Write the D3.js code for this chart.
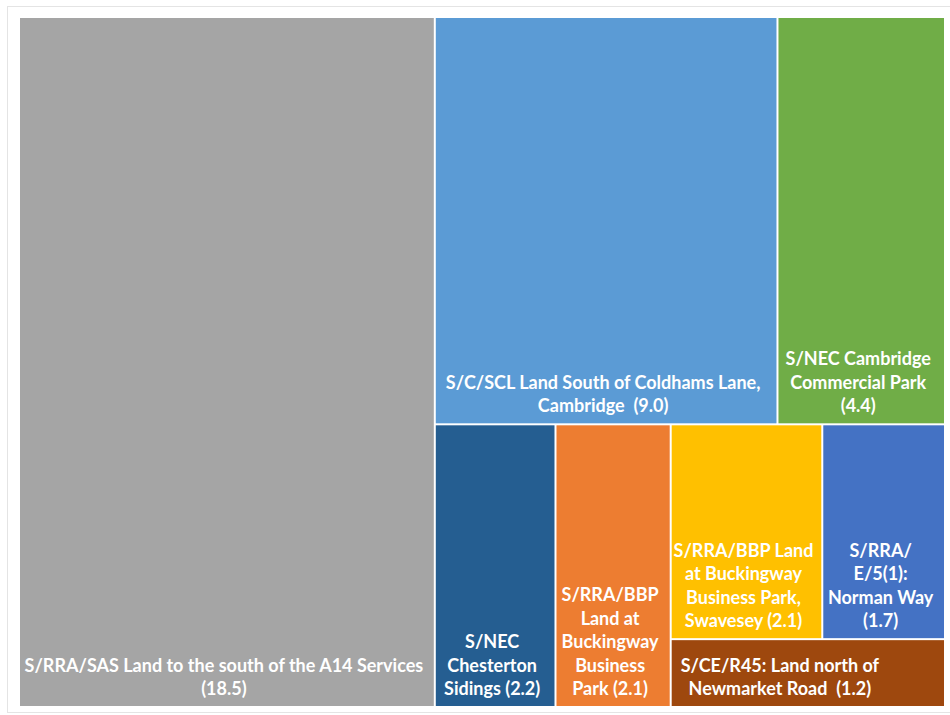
<!DOCTYPE html>
<html>
<head>
<meta charset="utf-8">
<script src="https://cdn.jsdelivr.net/npm/d3@7"></script>
<style>
  body { margin: 0; background: #fff; }
  svg { display: block; }
  .label { font-family: Lato, "Open Sans", sans-serif; font-weight: bold; fill: #fff; white-space: pre; }
</style>
</head>
<body>
<svg id="chart" width="950" height="715"></svg>
<script>
// tile labels (line breaks as in the original)
const labels = [
  "S/RRA/SAS Land to the south of the A14 Services\n(18.5)",
  "S/C/SCL Land South of Coldhams Lane,\nCambridge  (9.0)",
  "S/NEC Cambridge\nCommercial Park\n(4.4)",
  "S/NEC\nChesterton\nSidings (2.2)",
  "S/RRA/BBP\nLand at\nBuckingway\nBusiness\nPark (2.1)",
  "S/RRA/BBP Land\nat Buckingway\nBusiness Park,\nSwavesey (2.1)",
  "S/RRA/\nE/5(1):\nNorman Way\n(1.7)",
  "S/CE/R45: Land north of\nNewmarket Road  (1.2)"
];
const values = [18.5, 9.0, 4.4, 2.2, 2.1, 2.1, 1.7, 1.2];
const colors = ["#a5a5a5", "#5b9bd5", "#70ad47", "#255e91", "#ed7d31", "#ffc000", "#4472c4", "#9e480e"];
// how tiles are grouped (indices into the arrays above)
const nesting = [0, [[1, 2], [3, 4, [[5, 6], 7]]]];

const svg = d3.select("#chart");

// light frame around the chart area
svg.append("rect")
  .attr("x", 7.5).attr("y", 6.5)
  .attr("width", 960).attr("height", 706)
  .attr("fill", "none")
  .attr("stroke", "#e4e4e4");

const build = (n) => Array.isArray(n) ? { children: n.map(build) } : { i: n };

const root = d3.hierarchy(build(nesting))
  .sum(d => d.i !== undefined ? values[d.i] : 0);

d3.treemap()
  .tile(d3.treemapSliceDice)
  .size([924, 688])
  .paddingInner(2)(root);

const plot = svg.append("g").attr("transform", "translate(20,18)");

const leaves = plot.selectAll("g.tile")
  .data(root.leaves())
  .join("g")
  .attr("class", "tile");

leaves.append("rect")
  .attr("x", d => d.x0)
  .attr("y", d => d.y0)
  .attr("width", d => d.x1 - d.x0)
  .attr("height", d => d.y1 - d.y0)
  .attr("fill", d => colors[d.data.i]);

const lineH = 23.5;
leaves.each(function(d) {
  const lines = labels[d.data.i].split("\n");
  const t = d3.select(this).append("text")
    .attr("class", "label")
    .attr("font-size", 18)
    .attr("text-anchor", "middle");
  const n = lines.length;
  const spans = t.selectAll("tspan")
    .data(lines)
    .join("tspan")
    .attr("y", (s, k) => d.y1 - 11 - (n - 1 - k) * lineH)
    .text(s => s);
  let cx = (d.x0 + d.x1) / 2 - 3;
  // wide, short tiles: label block sits at the left
  if (d.y1 - d.y0 < 80) {
    const w = d3.max(spans.nodes(), node => node.getComputedTextLength());
    cx = d.x0 + 9 + w / 2;
  }
  spans.attr("x", cx);
});
</script>
</body>
</html>
